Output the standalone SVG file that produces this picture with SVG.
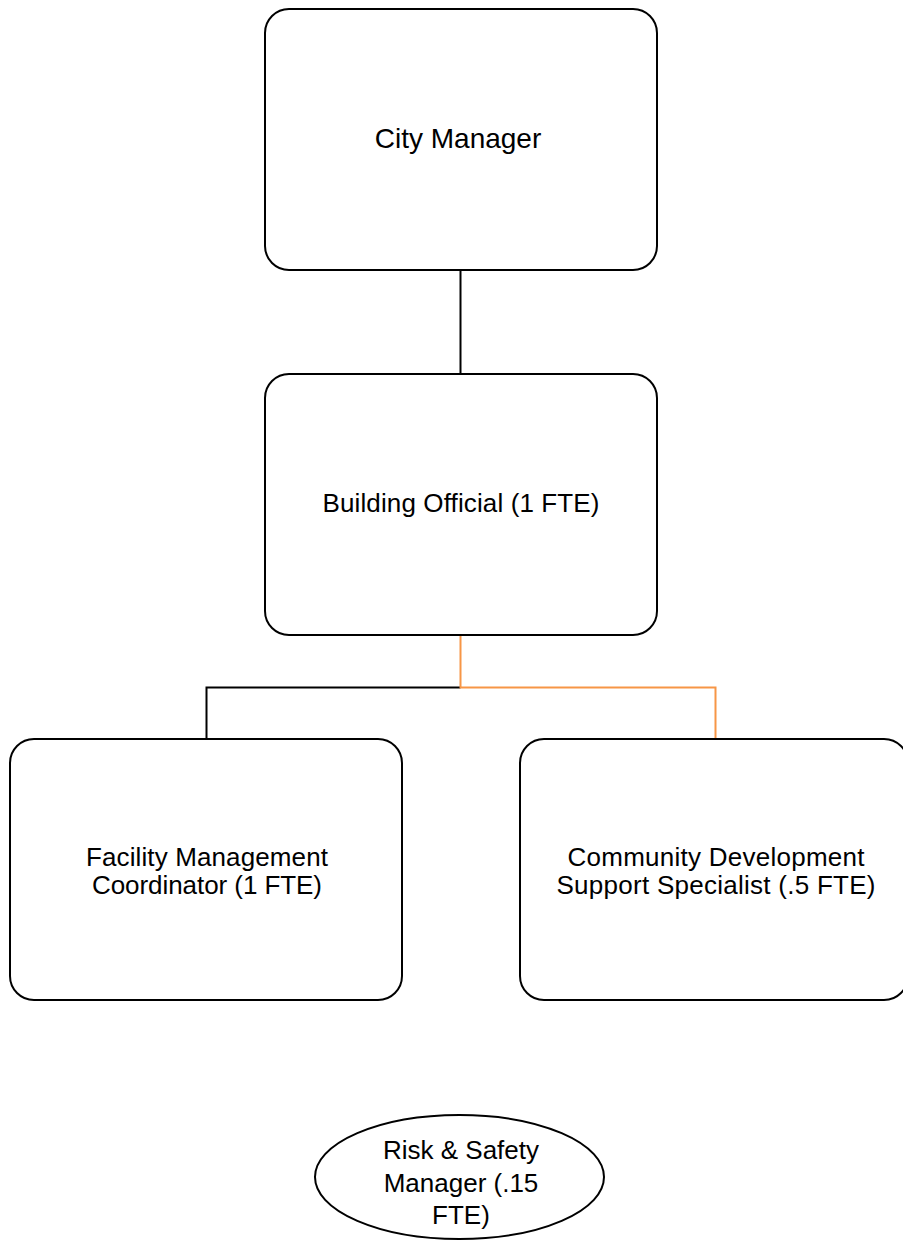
<svg xmlns="http://www.w3.org/2000/svg" width="903" height="1241" viewBox="0 0 903 1241">
  <style>
    .box { fill: #ffffff; stroke: #000000; stroke-width: 2; }
    .lbl { font-family: "Liberation Sans", Arial, sans-serif; font-size: 26px; fill: #000000; text-anchor: middle; }
    .big { font-size: 28px; }
    .ln { fill: none; stroke-width: 2; }
    .blk { stroke: #000000; }
    .org { stroke: #F79646; }
  </style>
  <rect width="903" height="1241" fill="#ffffff"/>

  <!-- reporting lines -->
  <g id="connectors">
    <line class="ln blk" x1="460.5" y1="270" x2="460.5" y2="374"/>
    <polyline class="ln blk" points="460.5,687.5 206.5,687.5 206.5,739"/>
    <polyline class="ln org" points="460.5,635 460.5,687.5 715.5,687.5 715.5,739"/>
  </g>

  <g id="city-manager">
    <rect class="box" x="265" y="9" width="392" height="261" rx="24" ry="24"/>
    <text class="lbl big" x="458" y="148">City Manager</text>
  </g>

  <g id="building-official">
    <rect class="box" x="265" y="374" width="392" height="261" rx="24" ry="24"/>
    <text class="lbl" x="461" y="512" textLength="277" lengthAdjust="spacing">Building Official (1 FTE)</text>
  </g>

  <g id="facility-coordinator">
    <rect class="box" x="10" y="739" width="392" height="261" rx="24" ry="24"/>
    <text class="lbl" x="207" y="866" textLength="242" lengthAdjust="spacing">Facility Management</text>
    <text class="lbl" x="207" y="894" textLength="230" lengthAdjust="spacing">Coordinator (1 FTE)</text>
  </g>

  <g id="support-specialist">
    <rect class="box" x="520" y="739" width="388" height="261" rx="24" ry="24"/>
    <text class="lbl" x="716" y="866" textLength="297" lengthAdjust="spacing">Community Development</text>
    <text class="lbl" x="716" y="894" textLength="319" lengthAdjust="spacing">Support Specialist (.5 FTE)</text>
  </g>

  <g id="risk-safety">
    <ellipse class="box" cx="459.5" cy="1177" rx="144.5" ry="62"/>
    <text class="lbl" x="461" y="1159">Risk &amp; Safety</text>
    <text class="lbl" x="461" y="1192">Manager (.15</text>
    <text class="lbl" x="461" y="1224">FTE)</text>
  </g>
</svg>
